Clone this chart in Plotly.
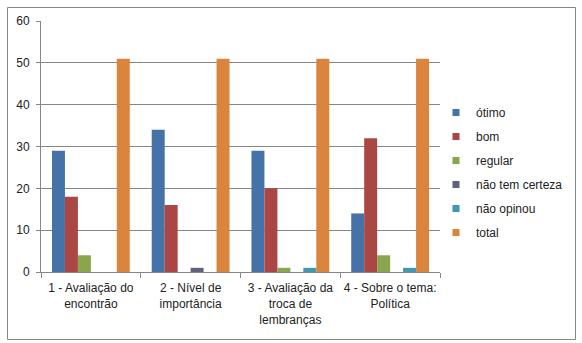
import plotly.graph_objects as go

categories = ["1 - Avaliação do<br>encontrão", "2 - Nível de<br>importância",
              "3 - Avaliação da<br>troca de<br>lembranças", "4 - Sobre o tema:<br>Política"]
series_names = ["ótimo", "bom", "regular", "não tem certeza", "não opinou", "total"]
otimo = [29, 34, 29, 14]
bom = [18, 16, 20, 32]
regular = [4, 0, 1, 4]
nao_tem_certeza = [0, 1, 0, 0]
nao_opinou = [0, 0, 1, 1]
total = [51, 51, 51, 51]
colors = ["#4572A7", "#AA4643", "#89A54E", "#5F627A", "#4198AF", "#DB843D"]
y_ticks = [0, 10, 20, 30, 40, 50, 60]

values = [otimo, bom, regular, nao_tem_certeza, nao_opinou, total]
fig = go.Figure()
for name, vals, c in zip(series_names, values, colors):
    fig.add_trace(go.Bar(name=name, x=categories, y=vals, marker_color=c,
                         marker_line_width=0, showlegend=False))
# legend entries with small square keys
for name, c in zip(series_names, colors):
    fig.add_trace(go.Scatter(name=name, x=[None], y=[None], mode="markers",
                             marker=dict(symbol="square", size=7, color=c),
                             legendgroup=name, showlegend=True, hoverinfo="skip"))

FONT = "Liberation Sans"
W, H = 582, 343
L, R, T, B = 41, 142, 21, 71
pw, ph = W - L - R, H - T - B

def px_x(p):
    return (p - L) / pw

def px_y(p):
    return (H - B - p) / ph

fig.update_layout(
    width=W, height=H,
    margin=dict(l=L, r=R, t=T, b=B, pad=0, autoexpand=False),
    paper_bgcolor="white", plot_bgcolor="white",
    barmode="group", bargap=0.22, bargroupgap=0,
    font=dict(family=FONT, size=12, color="#222222"),
    showlegend=True,
    legend=dict(x=px_x(436), y=px_y(98), xanchor="left", yanchor="top",
                font=dict(family=FONT, size=12, color="#222222"),
                tracegroupgap=5, itemwidth=30, itemsizing="trace",
                bgcolor="rgba(0,0,0,0)"),
    xaxis=dict(showgrid=False, showline=True, linecolor="#868686", linewidth=1,
               ticks="outside", tickson="boundaries", ticklen=5, tickcolor="#868686",
               ticklabelstandoff=5, tickangle=0,
               tickfont=dict(family=FONT, size=12, color="#222222")),
    yaxis=dict(range=[0, 60], tickvals=y_ticks, showgrid=True, gridcolor="#868686",
               gridwidth=1, showline=True, linecolor="#868686", linewidth=1,
               ticks="outside", ticklen=4, tickcolor="#868686", zeroline=False,
               ticklabelstandoff=4,
               tickfont=dict(family=FONT, size=12, color="#222222")),
    shapes=[dict(type="rect", xref="paper", yref="paper",
                 x0=px_x(7.5), x1=px_x(575.5), y0=px_y(339.5), y1=px_y(7.5),
                 line=dict(color="#868686", width=1), fillcolor="rgba(0,0,0,0)")],
)

fig.write_html("out.html")
